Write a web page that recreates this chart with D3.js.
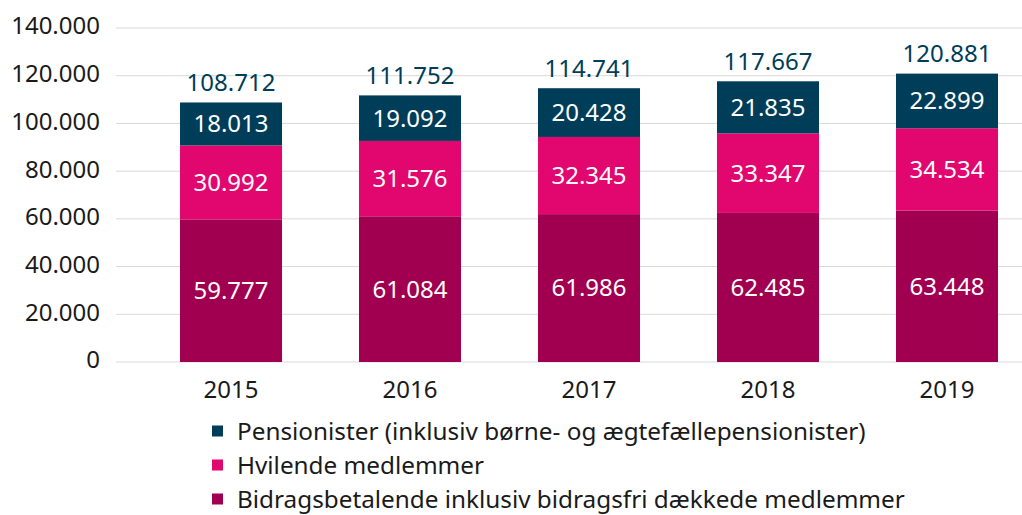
<!DOCTYPE html>
<html><head><meta charset="utf-8">
<script src="https://cdn.jsdelivr.net/npm/d3@7"></script>
<style>body{margin:0;background:#fff}svg{display:block;font-family:"Noto Sans",sans-serif}</style>
</head><body><svg id="c" width="1022" height="515"></svg>
<script>
const years = ["2015","2016","2017","2018","2019"];
const bidrag = [59777, 61084, 61986, 62485, 63448];
const hvilende = [30992, 31576, 32345, 33347, 34534];
const pension = [18013, 19092, 20428, 21835, 22899];
const totals = [108712, 111752, 114741, 117667, 120881];
const yTicks = [0, 20000, 40000, 60000, 80000, 100000, 120000, 140000];
const seriesNames = ["Pensionister (inklusiv børne- og ægtefællepensionister)", "Hvilende medlemmer", "Bidragsbetalende inklusiv bidragsfri dækkede medlemmer"];
const colors = {bidrag:"#A10050", hvilende:"#E2066F", pension:"#003D58"};

const FS = 24;
const svg = d3.select("#c");
const fmt = v => d3.format(",")(v).replace(/,/g, ".");
const y = d3.scaleLinear().domain([0,140000]).range([362,28]);
const x = d3.scaleBand().domain(years).range([141.5,1036.5]).paddingInner(0.43).paddingOuter(0.215);

// grid
svg.append("g").selectAll("line").data(yTicks).join("line")
  .attr("x1",116).attr("x2",1022).attr("y1",d=>y(d)).attr("y2",d=>y(d))
  .attr("stroke","#d9d9d9").attr("stroke-width",1);
svg.append("g").selectAll("text").data(yTicks).join("text")
  .attr("x",100).attr("y",d=>y(d)-2).attr("dy","0.35em").attr("text-anchor","end")
  .attr("font-size",FS).attr("fill","#1a1a1a").text(d=>fmt(d));

const rows = years.map((yr,i)=>({yr, b:bidrag[i], h:hvilende[i], p:pension[i], t:totals[i]}));
const segs = [];
rows.forEach(r=>{
  segs.push({yr:r.yr, y0:0, y1:r.b, v:r.b, c:colors.bidrag});
  segs.push({yr:r.yr, y0:r.b, y1:r.b+r.h, v:r.h, c:colors.hvilende});
  segs.push({yr:r.yr, y0:r.b+r.h, y1:r.b+r.h+r.p, v:r.p, c:colors.pension});
});
svg.append("g").selectAll("rect").data(segs).join("rect")
  .attr("x",d=>x(d.yr)).attr("width",x.bandwidth())
  .attr("y",d=>y(d.y1)).attr("height",d=>y(d.y0)-y(d.y1)).attr("fill",d=>d.c);
svg.append("g").selectAll("text").data(segs).join("text")
  .attr("x",d=>x(d.yr)+x.bandwidth()/2).attr("y",d=>(y(d.y0)+y(d.y1))/2).attr("dy","0.35em")
  .attr("text-anchor","middle").attr("font-size",FS).attr("fill","#fff").text(d=>fmt(d.v));
svg.append("g").selectAll("text").data(rows).join("text")
  .attr("x",d=>x(d.yr)+x.bandwidth()/2).attr("y",d=>y(d.b+d.h+d.p)-20).attr("dy","0.35em")
  .attr("text-anchor","middle").attr("font-size",FS).attr("fill","#003D58").text(d=>fmt(d.t));
svg.append("g").selectAll("text").data(years).join("text")
  .attr("x",d=>x(d)+x.bandwidth()/2).attr("y",390).attr("dy","0.35em")
  .attr("text-anchor","middle").attr("font-size",FS).attr("fill","#1a1a1a").text(d=>d);

const legC = [colors.pension, colors.hvilende, colors.bidrag];
const lg = svg.append("g").selectAll("g").data(seriesNames).join("g")
  .attr("transform",(d,i)=>`translate(212,${431+i*34})`);
lg.append("rect").attr("x",0).attr("y",-5.5).attr("width",11).attr("height",11).attr("fill",(d,i)=>legC[i]);
lg.append("text").attr("x",25).attr("dy","0.35em").attr("font-size",24.3).attr("fill","#1a1a1a").text(d=>d);
</script></body></html>
